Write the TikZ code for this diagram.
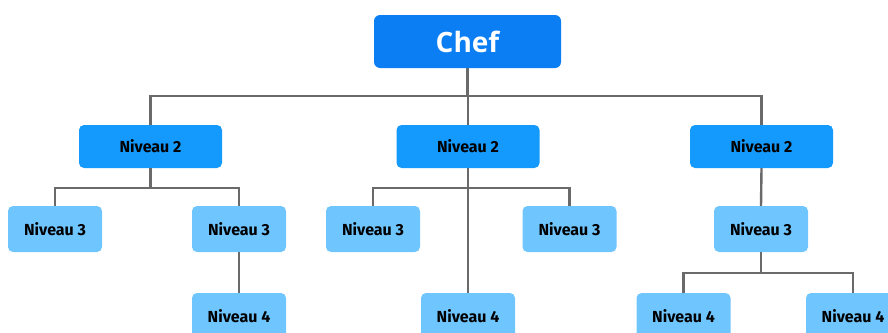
\documentclass[tikz,border=0pt]{standalone}
\usepackage{fontspec}
\newfontfamily\chieffont{Open Sans}
\newfontfamily\levelfont{Fira Sans}
\definecolor{chefblue}{HTML}{0B7EF4}
\definecolor{midblue}{HTML}{1499FC}
\definecolor{lightblue}{HTML}{6FC5FE}
\definecolor{wire}{HTML}{6A6A6A}
\begin{document}
\begin{tikzpicture}[x=1pt,y=-1pt,
  chefbox/.style={fill=chefblue,rounded corners=6pt,minimum width=187pt,minimum height=53pt,
    inner sep=0pt,text=white,font=\chieffont\bfseries\fontsize{28}{30}\selectfont},
  lvtwo/.style={fill=midblue,rounded corners=5pt,minimum width=143pt,minimum height=43pt,
    inner sep=0pt,text=black,font=\levelfont\bfseries\fontsize{16}{18}\selectfont},
  lvlow/.style={fill=lightblue,rounded corners=5pt,minimum width=94pt,minimum height=46pt,
    inner sep=0pt,text=black,font=\levelfont\bfseries\fontsize{16}{18}\selectfont},
  conn/.style={draw=wire,line width=2.4pt}]
\useasboundingbox (0,0) rectangle (888,332);
\clip (0,0) rectangle (888,332);

% boxes
\node[chefbox] (chef) at (467.5,41.5) {Chef};

\node[lvtwo] (ta) at (150.5,146.5) {Niveau 2};
\node[lvtwo] (tb) at (468,146.5) {Niveau 2};
\node[lvtwo] (tc) at (761.5,146.5) {Niveau 2};

\node[lvlow] (a1) at (55,229) {Niveau 3};
\node[lvlow] (a2) at (239,229) {Niveau 3};
\node[lvlow] (b1) at (373,229) {Niveau 3};
\node[lvlow] (b2) at (569.5,229) {Niveau 3};
\node[lvlow] (c1) at (761,229) {Niveau 3};

\node[lvlow] (a3) at (239,316) {Niveau 4};
\node[lvlow] (b3) at (468,316) {Niveau 4};
\node[lvlow] (c2) at (683.5,316) {Niveau 4};
\node[lvlow] (c3) at (853,316) {Niveau 4};

% bus levels
\coordinate (topbus) at (0,96);
\coordinate (busa) at (0,188);
\coordinate (busb) at (0,188);
\coordinate (busc) at (0,273);

% connectors
\draw[conn] (chef.south) -- (chef.south |- topbus);
\draw[conn] (ta.north) -- (ta.north |- topbus) -- (tc.north |- topbus) -- (tc.north);
\draw[conn] (tb.north) -- (tb.north |- topbus);

\draw[conn] (ta.south) -- (ta.south |- busa);
\draw[conn] (a1.north) -- (a1.north |- busa) -- (a2.north |- busa) -- (a2.north);
\draw[conn] (a2.south) -- (a3.north);

\draw[conn] (tb.south) -- (b3.north);
\draw[conn] (b1.north) -- (b1.north |- busb) -- (b2.north |- busb) -- (b2.north);

\draw[conn] (tc.south) -- (c1.north);
\draw[conn] (c1.south) -- (c1.south |- busc);
\draw[conn] (c2.north) -- (c2.north |- busc) -- (c3.north |- busc) -- (c3.north);
\end{tikzpicture}
\end{document}
